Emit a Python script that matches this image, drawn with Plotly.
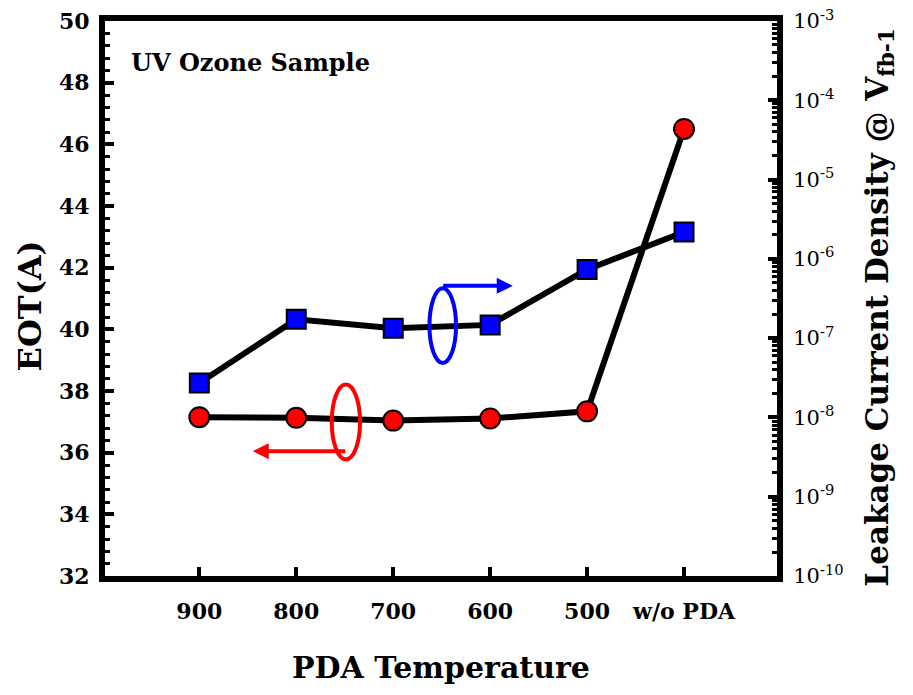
import plotly.graph_objects as go

temps = ["900", "800", "700", "600", "500", "w/o PDA"]
eot = [37.15, 37.13, 37.04, 37.11, 37.34, 46.50]
leak = [2.72e-8, 1.73e-7, 1.33e-7, 1.47e-7, 7.36e-7, 2.18e-6]
eot_ticks = [32, 34, 36, 38, 40, 42, 44, 46, 48, 50]
leak_exps = [-10, -9, -8, -7, -6, -5, -4, -3]

FONT = "DejaVu Serif, serif"

fig = go.Figure()
fig.add_trace(go.Scatter(
    x=temps, y=eot, mode="lines+markers", yaxis="y",
    line=dict(color="black", width=6),
    marker=dict(symbol="circle", size=20, color="#ff0000", line=dict(color="black", width=2)),
    showlegend=False))
fig.add_trace(go.Scatter(
    x=temps, y=leak, mode="lines+markers", yaxis="y2",
    line=dict(color="black", width=6),
    marker=dict(symbol="square", size=19, color="#0000ff", line=dict(color="black", width=2)),
    showlegend=False))

fig.update_layout(
    width=913, height=695,
    margin=dict(l=105, r=136, t=21, b=119),
    paper_bgcolor="white", plot_bgcolor="white",
    font=dict(family=FONT, color="black"),
    xaxis=dict(
        type="category", categoryorder="array", categoryarray=temps,
        range=[-0.973, 5.959], automargin=False,
        showline=True, linecolor="black", linewidth=6, mirror=True,
        ticks="inside", ticklen=9, tickwidth=4, tickcolor="black",
        showgrid=False, zeroline=False,
        tickfont=dict(family=FONT, size=22, weight="bold"),
        ticklabelstandoff=11, ticklabeloverflow="allow",
        title=dict(text="PDA Temperature", font=dict(family=FONT, size=30, weight="bold"), standoff=36),
    ),
    yaxis=dict(
        range=[32, 50], tickvals=eot_ticks, automargin=False,
        showline=True, linecolor="black", linewidth=6,
        ticks="inside", ticklen=9, tickwidth=4, tickcolor="black",
        minor=dict(ticks="inside", dtick=0.4, ticklen=5, tickwidth=3, tickcolor="black", showgrid=False),
        showgrid=False, zeroline=False,
        tickfont=dict(family=FONT, size=22, weight="bold"),
        ticklabelstandoff=5, ticklabeloverflow="allow",
    ),
    yaxis2=dict(
        type="log", range=[-10, -3], overlaying="y", side="right", automargin=False,
        tickvals=[10 ** e for e in leak_exps],
        ticktext=["10<sup>%d</sup>" % e for e in leak_exps],
        showline=True, linecolor="black", linewidth=6,
        ticks="inside", ticklen=9, tickwidth=4, tickcolor="black",
        minor=dict(ticks="inside", dtick="D1", ticklen=5, tickwidth=3, tickcolor="black", showgrid=False),
        showgrid=False, zeroline=False,
        tickfont=dict(family=FONT, size=21),
        ticklabelstandoff=6, ticklabeloverflow="allow",
    ),
)

# axis titles (placed as annotations for exact positioning)
fig.add_annotation(x=-0.112, y=0.487, xref="paper", yref="paper", xanchor="center", yanchor="middle",
                   text="EOT(A)", textangle=-90, showarrow=False,
                   font=dict(family=FONT, size=32, weight="bold", color="black"))
fig.add_annotation(x=1.153, y=0.485, xref="paper", yref="paper", xanchor="center", yanchor="middle",
                   text="Leakage Current Density @ V<sub>fb-1</sub>", textangle=-90, showarrow=False,
                   font=dict(family=FONT, size=31, weight="bold", color="black"))

# indicator ellipses
fig.add_shape(type="circle", xref="x", yref="y", x0=2.374, x1=2.648, y0=38.91, y1=41.33,
              line=dict(color="#0000ff", width=4), layer="above")
fig.add_shape(type="circle", xref="x", yref="y", x0=1.366, x1=1.658, y0=35.78, y1=38.21,
              line=dict(color="#ff0000", width=4), layer="above")

# indicator arrows
fig.add_annotation(x=3.233, y=41.41, ax=2.50, ay=41.41, xref="x", yref="y", axref="x", ayref="y",
                   text="", showarrow=True, arrowhead=2, arrowsize=0.8, arrowwidth=4,
                   arrowcolor="#0000ff", standoff=0, startstandoff=0)
fig.add_annotation(x=0.551, y=36.05, ax=1.521, ay=36.05, xref="x", yref="y", axref="x", ayref="y",
                   text="", showarrow=True, arrowhead=2, arrowsize=0.8, arrowwidth=4,
                   arrowcolor="#ff0000", standoff=0, startstandoff=0)

fig.add_annotation(x=0.036, y=0.926, xref="paper", yref="paper", xanchor="left", yanchor="middle",
                   text="UV Ozone Sample", showarrow=False,
                   font=dict(family=FONT, size=24, weight="bold", color="black"))

fig.write_html("out.html", config={"displayModeBar": False},
               post_script="document.body.style.margin='0';document.body.style.overflow='hidden';")
